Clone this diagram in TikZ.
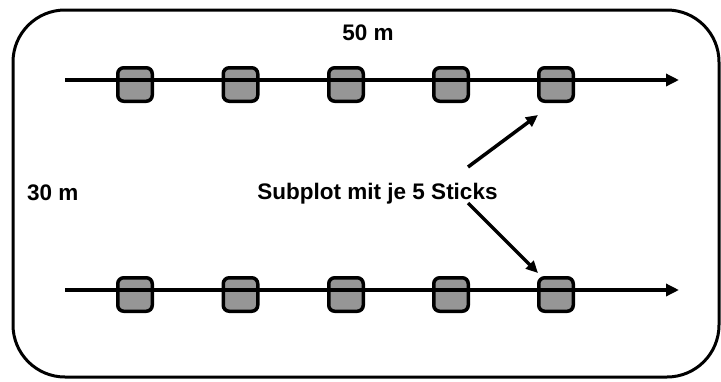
\documentclass[tikz,border=0pt]{standalone}
\usepackage{fontspec}
\setmainfont{Liberation Sans}
\usetikzlibrary{arrows.meta}
\definecolor{stickgray}{RGB}{150,150,150}
\tikzset{
  stickbox/.style={draw=black, line width=3.5pt, fill=stickgray, rounded corners=6pt,
    minimum width=34.5pt, minimum height=33.5pt, inner sep=0pt},
  transect/.style={line width=4pt, -{Triangle[length=13pt,width=12pt]}},
  pointer/.style={line width=3.5pt, -{Triangle[length=12pt,width=11pt]}},
  label/.style={font=\fontsize{22.5}{26}\selectfont\bfseries, inner sep=0pt}
}
\begin{document}
\begin{tikzpicture}[x=1pt, y=-1pt]
  \useasboundingbox (0,0) rectangle (721,381);
  % plot boundary
  \draw[line width=3pt, rounded corners=52pt] (13,10) rectangle (719,377);

  % sticks on the two transects
  \foreach \i/\x in {1/135, 2/240.5, 3/346, 4/451, 5/556} {
    \node[stickbox] (t\i) at (\x,84.5) {};
    \node[stickbox] (b\i) at (\x,294.5) {};
  }

  % transects
  \coordinate (ts) at (65,80);
  \coordinate (te) at (679,80);
  \coordinate (bs) at (65,290);
  \coordinate (be) at (679,290);
  \draw[transect] (ts) -- (te);
  \draw[transect] (bs) -- (be);

  % labels
  \node[label, anchor=base] (len) at (368,40) {50 m};
  \node[label, anchor=base west] (wid) at (27,200) {30 m};
  \node[label, anchor=base] (sub) at (377.5,199) {Subplot mit je 5 Sticks};

  % pointers from the label to the subplots
  \coordinate (pu0) at (468,167);
  \coordinate (pu1) at (538,115);
  \coordinate (pd0) at (468,203);
  \coordinate (pd1) at (538,273);
  \draw[pointer] (pu0) -- (pu1);
  \draw[pointer] (pd0) -- (pd1);
\end{tikzpicture}
\end{document}
